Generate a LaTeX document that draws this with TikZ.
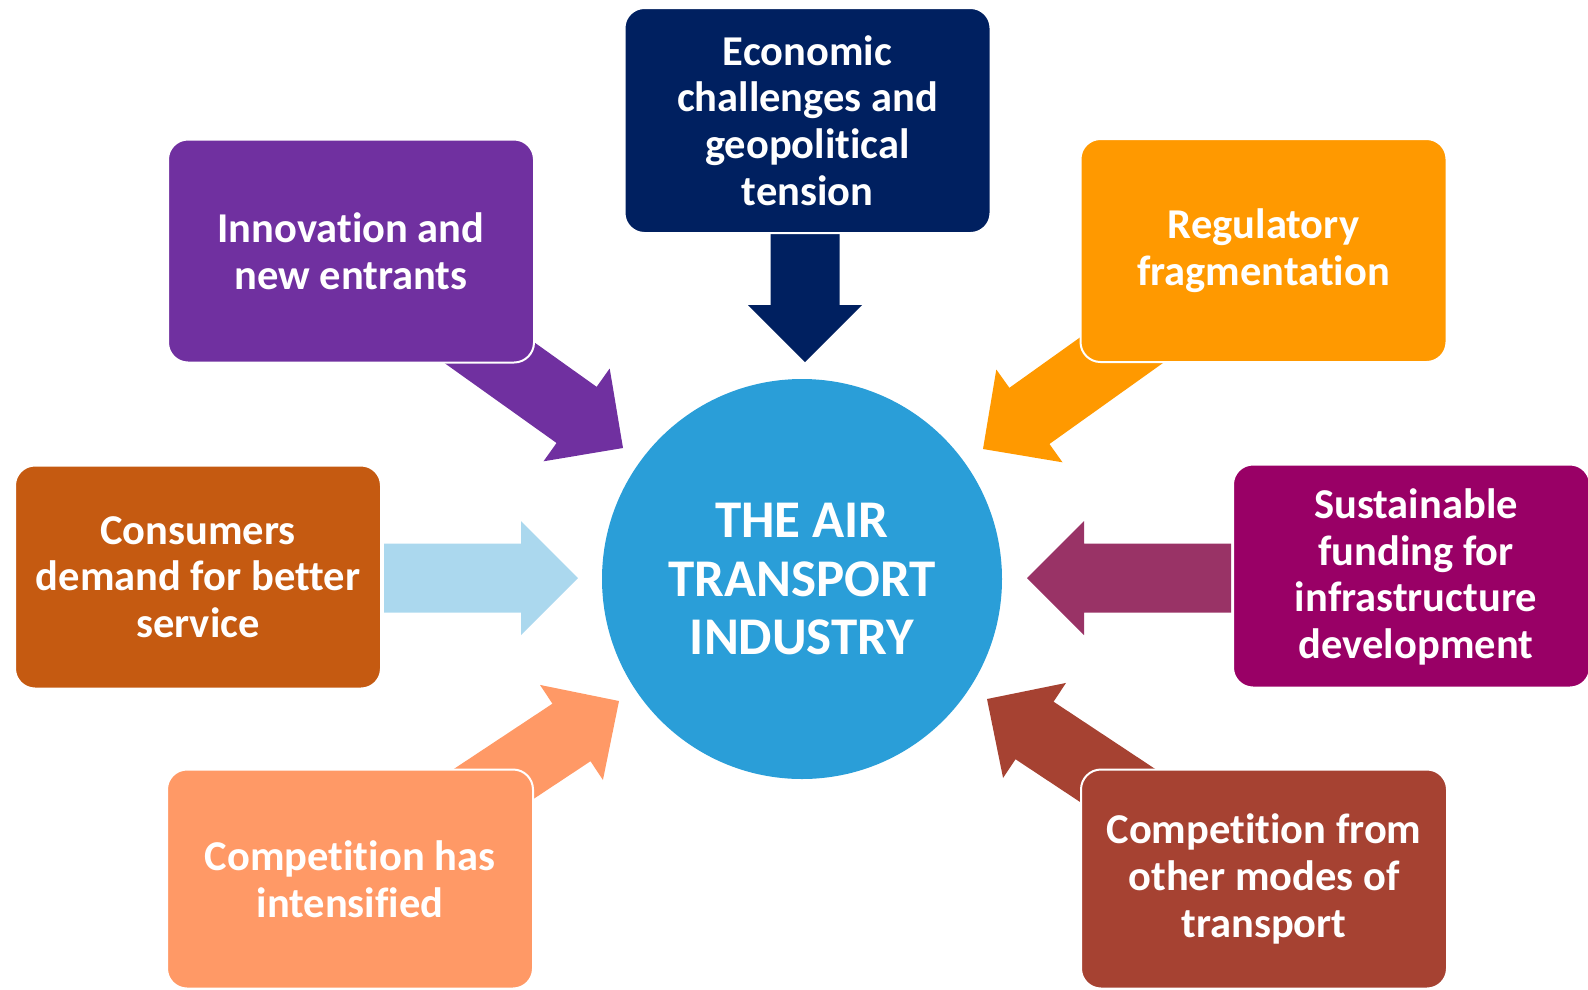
\documentclass[tikz,border=0pt]{standalone}
\usepackage{fontspec}
\setmainfont[Ligatures=NoCommon]{Carlito}
\definecolor{navy}{HTML}{002060}
\definecolor{violet}{HTML}{7030A0}
\definecolor{amber}{HTML}{FF9900}
\definecolor{rust}{HTML}{C55A11}
\definecolor{plum}{HTML}{990066}
\definecolor{salmon}{HTML}{FF9966}
\definecolor{brick}{HTML}{A64232}
\definecolor{sky}{HTML}{2A9ED8}
\definecolor{paleblue}{HTML}{ABD8EE}
\definecolor{mauve}{HTML}{993366}
\newcommand\blockarrow[4]{% color, tip, angle, length
  \fill[#1, shift={(#2)}, rotate=#3] (0,0) -- (-57,57) -- (-57,34.5) -- (-#4,34.5)
    -- (-#4,-34.5) -- (-57,-34.5) -- (-57,-57) -- cycle;}
\begin{document}
\begin{tikzpicture}[x=1pt,y=-1pt,
  factor/.style={rounded corners=20pt, draw=white, line width=2pt, text=white,
    font=\bfseries\fontsize{42.5}{46.6}\selectfont, align=center, inner sep=0pt,
    minimum width=366pt, minimum height=223pt},
  label/.style={text=white, font=\bfseries\fontsize{42.5}{46.6}\selectfont, align=center, inner sep=0pt},
  hub/.style={circle, fill=sky, text=white, minimum size=400pt, inner sep=0pt,
    font=\bfseries\fontsize{53}{58.7}\selectfont, align=center}]
\useasboundingbox (0,0) rectangle (1588,989);
% arrow tips
\coordinate (tE) at (805,362);
\coordinate (tI) at (623,448);
\coordinate (tR) at (983,449);
\coordinate (tC) at (578,578);
\coordinate (tS) at (1027,578);
\coordinate (tH) at (619,701);
\coordinate (tO) at (987,699);
% arrows
\blockarrow{navy}{tE}{-90}{128}
\blockarrow{violet}{tI}{-35.5}{230}
\blockarrow{amber}{tR}{-144.5}{230}
\blockarrow{paleblue}{tC}{0}{194}
\blockarrow{mauve}{tS}{180}{204}
\blockarrow{salmon}{tH}{33.5}{230}
\blockarrow{brick}{tO}{146.5}{230}
% hub
\node[hub] (hub) at (802,579) {THE AIR\\TRANSPORT\\INDUSTRY};
% factor boxes
\node[factor, fill=navy, minimum height=225pt] (econ) at (807.5,120.5) {Economic\\challenges and\\geopolitical\\tension};
\node[factor, fill=violet] (innov) at (351,251) {Innovation and\\new entrants};
\node[factor, fill=amber] (reg) at (1263.5,250.5) {Regulatory\\fragmentation};
\node[factor, fill=rust] (cons) at (198,577) {Consumers\\demand for better\\service};
\node[factor, fill=plum, minimum width=357pt] (sust) at (1411.5,576) {};
\node[label] (sustlabel) at (1416,577) {Sustainable\\funding for\\infrastructure\\development};
\node[factor, fill=salmon, minimum height=219pt] (compi) at (350,879) {Competition has\\intensified};
\node[factor, fill=brick, minimum height=219pt] (compo) at (1264,879) {Competition from\\other modes of\\transport};
\end{tikzpicture}
\end{document}
